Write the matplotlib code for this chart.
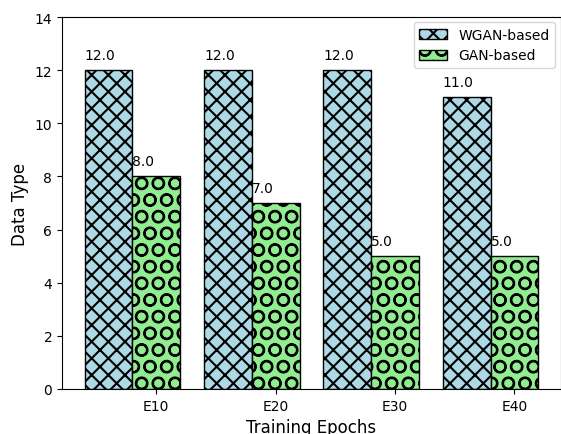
import matplotlib
matplotlib.use("Agg")
import matplotlib.pyplot as plt
import numpy as np

categories = ["E10", "E20", "E30", "E40"]
wgan = [12.0, 12.0, 12.0, 11.0]
gan = [8.0, 7.0, 5.0, 5.0]

plt.rcParams["hatch.linewidth"] = 1.5

fig = plt.figure(figsize=(5.61, 4.35), dpi=100)
ax = fig.add_axes([62/561, 1-390/435, 499/561, 372/435])

x = np.arange(len(categories))
w = 0.4
b1 = ax.bar(x, wgan, w, color="lightblue", edgecolor="black", hatch="xx", label="WGAN-based")
b2 = ax.bar(x + w, gan, w, color="lightgreen", edgecolor="black", hatch="O", label="GAN-based")

for xi, v in zip(x, wgan):
    ax.text(xi - w/2, v + 0.3, f"{v:.1f}", fontsize=10, ha="left", va="bottom")
for xi, v in zip(x, gan):
    ax.text(xi + w/2, v + 0.3, f"{v:.1f}", fontsize=10, ha="left", va="bottom")

ax.set_ylim(0, 14)
ax.set_xticks(x + w)
ax.set_xticklabels(categories, fontsize=10)
ax.tick_params(axis="y", labelsize=10)
ax.set_xlabel("Training Epochs", fontsize=12)
ax.set_ylabel("Data Type", fontsize=12)
ax.legend(loc="upper right", bbox_to_anchor=(555/561, 1-23/435), bbox_transform=fig.transFigure,
          borderaxespad=0, fontsize=10)

fig.savefig("out.png", dpi=100)
